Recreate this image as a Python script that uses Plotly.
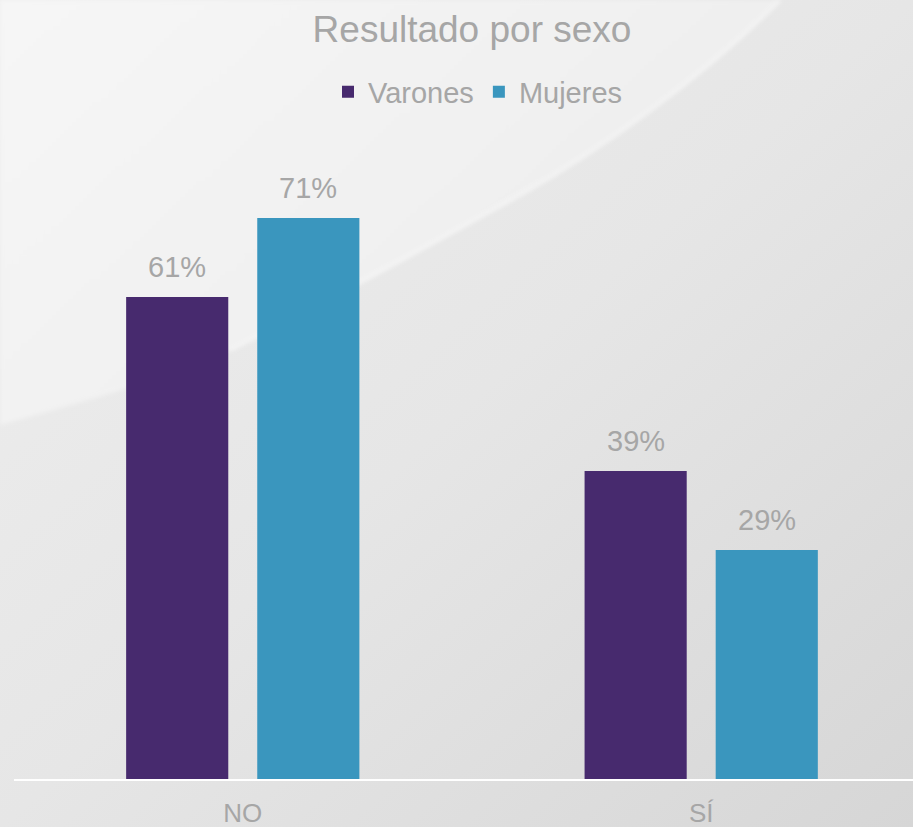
import base64
import plotly.graph_objects as go

categories = ["NO", "SÍ"]
series_names = ["Varones", "Mujeres"]
varones = [61, 39]
mujeres = [71, 29]
colors = ["#472a6e", "#3a96be"]

W, H = 913, 827
ml, mr, mt, mb = 14, 0, 147, 48

BARGAP = 0.428
GROUPGAP = 0.221
slot = (1 - BARGAP) / 2  # width of each bar slot in category units

fig = go.Figure()
for name, vals, col in zip(series_names, [varones, mujeres], colors):
    fig.add_trace(go.Bar(
        x=categories, y=vals, name=name, marker_color=col,
        marker_line_width=0, cliponaxis=False,
    ))

# value labels above bars, placed through the axis scales
annotations = []
for i, vals in enumerate([varones, mujeres]):
    offset = (i - 0.5) * slot
    for ci, v in enumerate(vals):
        annotations.append(dict(
            x=ci + offset, y=v, xref="x", yref="y", text=f"{v}%",
            showarrow=False, yanchor="bottom", yshift=12,
            font=dict(size=29, color="#a6a6a6", family="Liberation Sans, Arial"),
        ))

# background: soft gradient with a light swoosh
svg = f'''<svg xmlns="http://www.w3.org/2000/svg" width="{W}" height="{H}" viewBox="0 0 {W} {H}">
<defs>
<linearGradient id="g" x1="0" y1="0" x2="1" y2="1">
<stop offset="0" stop-color="#efefef"/>
<stop offset="0.5" stop-color="#e6e6e6"/>
<stop offset="1" stop-color="#d6d6d6"/>
</linearGradient>
<linearGradient id="h" x1="0" y1="0" x2="1" y2="0.6">
<stop offset="0" stop-color="#f6f6f6"/>
<stop offset="0.6" stop-color="#f1f1f1"/>
<stop offset="1" stop-color="#ebebeb"/>
</linearGradient>
<filter id="b"><feGaussianBlur stdDeviation="2"/></filter>
</defs>
<rect width="{W}" height="{H}" fill="url(#g)"/>
<path d="M0,0 L780,0 C700,80 600,150 520,195 C420,250 330,300 230,350 C150,385 70,405 0,425 Z" fill="url(#h)" filter="url(#b)"/>
<path d="M780,0 C700,80 600,150 520,195 C420,250 330,300 230,350" fill="none" stroke="#ffffff" stroke-opacity="0.55" stroke-width="3" filter="url(#b)"/>
</svg>'''
bg = "data:image/svg+xml;base64," + base64.b64encode(svg.encode()).decode()

fig.update_layout(
    width=W, height=H,
    margin=dict(l=ml, r=mr, t=mt, b=mb),
    paper_bgcolor="#e8e8e8", plot_bgcolor="rgba(0,0,0,0)",
    font=dict(family="Liberation Sans, Arial", color="#a6a6a6"),
    title=dict(text="Resultado por sexo", x=472 / W, xref="container", xanchor="center",
               y=1 - 29 / H, yref="container", yanchor="middle",
               font=dict(size=37, color="#a6a6a6")),
    legend=dict(orientation="h", xref="container", yref="container",
                x=478 / W, xanchor="center", y=1 - 92 / H, yanchor="middle",
                font=dict(size=29, color="#a6a6a6"), bgcolor="rgba(0,0,0,0)",
                itemwidth=30),
    bargap=BARGAP, bargroupgap=GROUPGAP,
    xaxis=dict(range=[-0.499, 1.462], showline=True, linecolor="white", linewidth=2,
               showgrid=False, ticks="", zeroline=False, ticklabelstandoff=10,
               tickfont=dict(size=26, color="#a6a6a6",
                             family="Liberation Sans Narrow, Arial Narrow, Liberation Sans")),
    yaxis=dict(range=[0, 80], visible=False, showgrid=False),
    annotations=annotations,
    images=[dict(source=bg, xref="paper", yref="paper",
                 x=-ml / (W - ml - mr), y=1 + mt / (H - mt - mb),
                 sizex=W / (W - ml - mr), sizey=H / (H - mt - mb),
                 xanchor="left", yanchor="top", sizing="stretch", layer="below")],
    showlegend=True,
)

fig.write_html("out.html", config={"displayModeBar": False},
               post_script="document.body.style.margin='0';document.body.style.overflow='hidden';")
